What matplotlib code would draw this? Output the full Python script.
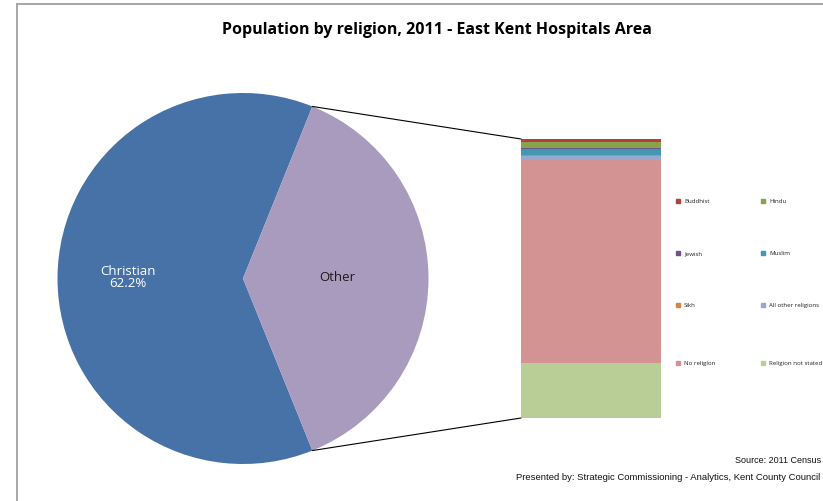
import matplotlib
matplotlib.use("Agg")
import math
import matplotlib.pyplot as plt
from matplotlib.patches import ConnectionPatch, Rectangle
from matplotlib.lines import Line2D

W, H = 823, 502
DPI = 100

# ---------------- data ----------------
pie_labels = ["Christian", "Other"]
pie_values = [62.2, 37.8]
pie_colors = ["#4672A8", "#A99BBD"]

bar_labels = ["Buddhist", "Hindu", "Jewish", "Muslim", "Sikh",
              "All other religions", "No religion", "Religion not stated"]
bar_values = [0.4, 0.8, 0.1, 0.9, 0.1, 0.5, 27.5, 7.5]
bar_colors = ["#B0413E", "#86A44A", "#6E548D", "#4198AF", "#DB843D",
              "#93A9CF", "#D39392", "#B9CD96"]

title = "Population by religion, 2011 - East Kent Hospitals Area"
source = "Source: 2011 Census"
presented = "Presented by: Strategic Commissioning - Analytics, Kent County Council"

# ---------------- figure ----------------
fig = plt.figure(figsize=(W / DPI, H / DPI), dpi=DPI)

def fx(px):
    return px / W

def fy(py):
    return 1 - py / H

# frame (cut off at right and bottom)
fig.add_artist(Line2D([fx(17), 1.0], [fy(5), fy(5)], color="#A6A6A6", lw=1.4))
fig.add_artist(Line2D([fx(17), fx(17)], [fy(5), 0.0], color="#A6A6A6", lw=1.4))

fig.text(fx(437), fy(30.5), title, ha="center", va="center",
         fontsize=11.5, fontweight="bold", family=["Open Sans", "DejaVu Sans"])

# ---------------- pie ----------------
cx, cy, r = 243, 279.5, 185.5
ax_pie = fig.add_axes([fx(cx - r), fy(cy + r), 2 * r / W, 2 * r / H])
other_frac = pie_values[1] / sum(pie_values)
start = 360 * other_frac / 2
wedges, _ = ax_pie.pie(pie_values, colors=pie_colors, startangle=start,
                       counterclock=True, radius=1,
                       wedgeprops=dict(linewidth=0))
ax_pie.set_xlim(-1, 1)
ax_pie.set_ylim(-1, 1)
ax_pie.axis("off")

ax_pie.text(-0.62, 0.012, f"{pie_labels[0]}\n{pie_values[0]:.1f}%", color="white",
            ha="center", va="center", fontsize=9.5, linespacing=0.85,
            family=["Open Sans", "DejaVu Sans"])
ax_pie.text(0.51, 0.012, pie_labels[1], color="#1a1a1a", ha="center", va="center",
            fontsize=9.5, family=["Open Sans", "DejaVu Sans"])

# ---------------- bar ----------------
bx0, bx1, by0, by1 = 521, 661, 140, 419
ax_bar = fig.add_axes([fx(bx0), fy(by1), (bx1 - bx0) / W, (by1 - by0) / H])
total = sum(bar_values)
bottom = total
for lab, v, c in zip(bar_labels, bar_values, bar_colors):
    bottom -= v
    ax_bar.bar(0, v, bottom=bottom, width=1.0, color=c, linewidth=0)
ax_bar.set_xlim(-0.5, 0.5)
ax_bar.set_ylim(0, total)
ax_bar.axis("off")

# connector lines
ang = math.radians(start)
for sgn, yb in ((1, total), (-1, 0)):
    con = ConnectionPatch(xyA=(math.cos(ang), sgn * math.sin(ang)), coordsA=ax_pie.transData,
                          xyB=(-0.5, yb), coordsB=ax_bar.transData,
                          color="black", lw=0.8)
    fig.add_artist(con)

# ---------------- legend ----------------
col_x = [678, 763]
row_y = [202, 254, 306, 364]
for i, (lab, c) in enumerate(zip(bar_labels, bar_colors)):
    x = col_x[i % 2]
    y = row_y[i // 2]
    fig.add_artist(Rectangle((fx(x - 2), fy(y + 2)), 4 / W, 4 / H, color=c,
                             transform=fig.transFigure))
    fig.text(fx(x + 6), fy(y - 0.5), lab, ha="left", va="center", fontsize=4.4,
             family=["Open Sans", "DejaVu Sans"], color="#222222")

# ---------------- footer ----------------
fig.text(fx(821), fy(461), source, ha="right", va="center", fontsize=6.5,
         family=["Liberation Sans Narrow", "Liberation Sans"], color="#111111")
fig.text(fx(820), fy(478), presented, ha="right", va="center", fontsize=6.8,
         family=["Liberation Sans"], color="#111111")

fig.savefig("out.png", dpi=DPI)
